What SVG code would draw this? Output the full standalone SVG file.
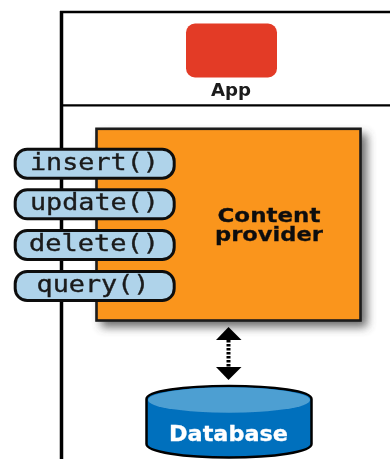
<svg xmlns="http://www.w3.org/2000/svg" width="390" height="459" viewBox="0 0 390 459">
<style>
.frame{fill:none;stroke:#000}
.pill{fill:#afd3ea;stroke:#111;stroke-width:3}
.m{font-family:"DejaVu Sans Mono",monospace;font-size:23px;fill:#1a1a1a;stroke:#1a1a1a;stroke-width:.35;text-anchor:middle}
.b{font-family:"DejaVu Sans","Liberation Sans",sans-serif;font-weight:700;text-anchor:middle}
</style>
<defs>
<filter id="sh" x="-15%" y="-15%" width="135%" height="135%"><feGaussianBlur stdDeviation="5"/></filter>
<filter id="soft" x="-5%" y="-5%" width="110%" height="110%"><feGaussianBlur stdDeviation="0.5"/></filter>
</defs>
<rect width="390" height="459" fill="#fff"/>
<g id="frame" filter="url(#soft)">
<path class="frame" stroke-width="3.500" d="M61.500 459V11"/>
<path class="frame" stroke-width="2.500" d="M60 12H390"/>
<path class="frame" stroke-width="2.200" d="M61 105.300H390"/>
</g>
<g id="content-provider">
<rect x="101" y="134" width="266" height="193" fill="#444" opacity=".8" filter="url(#sh)"/>
<g filter="url(#soft)">
<rect x="96.500" y="128.800" width="264" height="191.700" fill="#fa951f" stroke="#1a1a1a" stroke-width="2.600"/>
<text class="b" font-size="20" fill="#111" stroke="#111" stroke-width=".3"><tspan x="269" y="221.500" textLength="103" lengthAdjust="spacingAndGlyphs">Content</tspan><tspan x="269" y="240.500" textLength="108" lengthAdjust="spacingAndGlyphs">provider</tspan></text>
</g>
</g>
<g id="app" filter="url(#soft)">
<rect x="186" y="23.500" width="91" height="54" rx="9" fill="#e33a26"/>
<text class="b" x="231" y="95.500" font-size="18" fill="#1a1a1a" textLength="40" lengthAdjust="spacingAndGlyphs">App</text>
</g>
<g id="insert" filter="url(#soft)"><rect class="pill" x="15.200" y="149.200" width="159" height="29" rx="12"/><text class="m" x="94.500" y="170" textLength="129" lengthAdjust="spacingAndGlyphs">insert()</text></g>
<g id="update" filter="url(#soft)"><rect class="pill" x="15.200" y="189.800" width="159" height="29" rx="12"/><text class="m" x="94.500" y="210" textLength="129" lengthAdjust="spacingAndGlyphs">update()</text></g>
<g id="delete" filter="url(#soft)"><rect class="pill" x="15.200" y="230.500" width="159" height="29" rx="12"/><text class="m" x="94" y="250.500" textLength="130" lengthAdjust="spacingAndGlyphs">delete()</text></g>
<g id="query" filter="url(#soft)"><rect class="pill" x="15.200" y="271.500" width="159" height="29" rx="12"/><text class="m" x="93" y="291.500" textLength="113" lengthAdjust="spacingAndGlyphs">query()</text></g>
<g id="connectors" filter="url(#soft)">
<path d="M228.500 340V367" fill="none" stroke="#000" stroke-width="4" stroke-dasharray="2.500 1.500"/>
<path d="M228.500 327L216 340H241.500Z" fill="#000"/>
<path d="M228.500 380L216 367H241.500Z" fill="#000"/>
</g>
<g id="database" filter="url(#soft)">
<path d="M146.500 399C146.500 391 184 386 229 386S311.500 391 311.500 399V444C311.500 452 274 457.500 229 457.500S146.500 452 146.500 444Z" fill="#026fbd" stroke="#000" stroke-width="2.500"/>
<ellipse cx="229" cy="400" rx="81" ry="12.800" fill="#4e9fd2"/>
<text class="b" x="228.500" y="440.500" font-size="21" fill="#fff" stroke="#fff" stroke-width=".3" textLength="119" lengthAdjust="spacingAndGlyphs">Database</text>
</g>
</svg>
